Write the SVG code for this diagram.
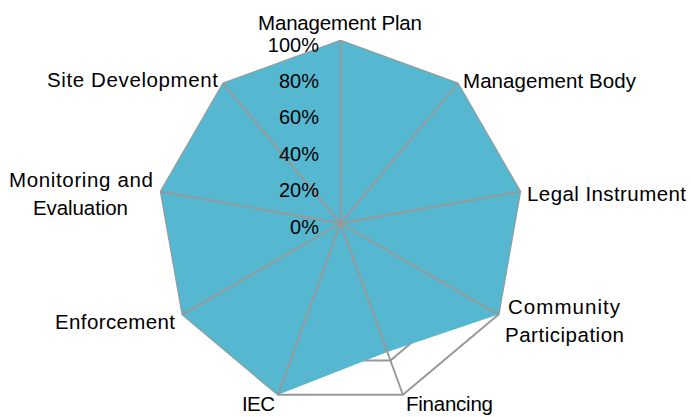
<svg xmlns="http://www.w3.org/2000/svg" width="691" height="417" viewBox="0 0 691 417">
<style>
.grid{fill:none;stroke:#989898;stroke-width:2;stroke-linejoin:round}
.axis{stroke:#989898;stroke-width:1.9}
.series{fill:#56B8D0;stroke:none}
text{font-family:"Liberation Sans",Arial,sans-serif;font-size:20.5px;fill:#000}
.tick{text-anchor:end;font-size:20px}
</style>
<rect width="691" height="417" fill="#fff"/>
<g id="gridlines">
<polygon class="grid" points="340.5,40.8 457.8,83.5 520.2,191.6 498.5,314.6 402.9,394.8 278.1,394.8 182.5,314.6 160.8,191.6 223.2,83.5"/>
<polygon class="grid" points="340.5,77.3 434.3,111.5 484.2,197.9 466.9,296.3 390.4,360.5 290.6,360.5 214.1,296.3 196.8,197.9 246.7,111.5"/>
</g>
<g id="series-fill">
<polygon class="series" points="340.5,40.8 457.8,83.5 520.2,191.6 498.5,314.6 387.3,351.9 278.1,394.8 182.5,314.6 160.8,191.6 223.2,83.5"/>
</g>
<g id="connectors">
<line class="axis" x1="340.5" y1="223.3" x2="340.5" y2="40.8"/>
<line class="axis" x1="340.5" y1="223.3" x2="457.8" y2="83.5"/>
<line class="axis" x1="340.5" y1="223.3" x2="520.2" y2="191.6"/>
<line class="axis" x1="340.5" y1="223.3" x2="498.5" y2="314.6"/>
<line class="axis" x1="340.5" y1="223.3" x2="402.9" y2="394.8"/>
<line class="axis" x1="340.5" y1="223.3" x2="278.1" y2="394.8"/>
<line class="axis" x1="340.5" y1="223.3" x2="182.5" y2="314.6"/>
<line class="axis" x1="340.5" y1="223.3" x2="160.8" y2="191.6"/>
<line class="axis" x1="340.5" y1="223.3" x2="223.2" y2="83.5"/>
</g>
<g id="ticks">
<text class="tick" x="319" y="51.5">100%</text>
<text class="tick" x="319" y="88">80%</text>
<text class="tick" x="319" y="124.4">60%</text>
<text class="tick" x="319" y="160.8">40%</text>
<text class="tick" x="319" y="197.2">20%</text>
<text class="tick" x="319" y="233.5">0%</text>
</g>
<g id="management-plan"><text x="258" y="30" textLength="164">Management Plan</text></g>
<g id="management-body"><text x="463" y="88" textLength="173">Management Body</text></g>
<g id="legal-instrument"><text x="527" y="201" textLength="159">Legal Instrument</text></g>
<g id="community-participation"><text x="508" y="314" textLength="112">Community</text><text x="505" y="342" textLength="119">Participation</text></g>
<g id="financing"><text x="406" y="411" textLength="87">Financing</text></g>
<g id="iec"><text x="242" y="411" textLength="33">IEC</text></g>
<g id="enforcement"><text x="55" y="329" textLength="120">Enforcement</text></g>
<g id="monitoring-evaluation"><text x="9" y="187" textLength="144">Monitoring and</text><text x="33" y="215" textLength="95">Evaluation</text></g>
<g id="site-development"><text x="47" y="87" textLength="171">Site Development</text></g>
</svg>
